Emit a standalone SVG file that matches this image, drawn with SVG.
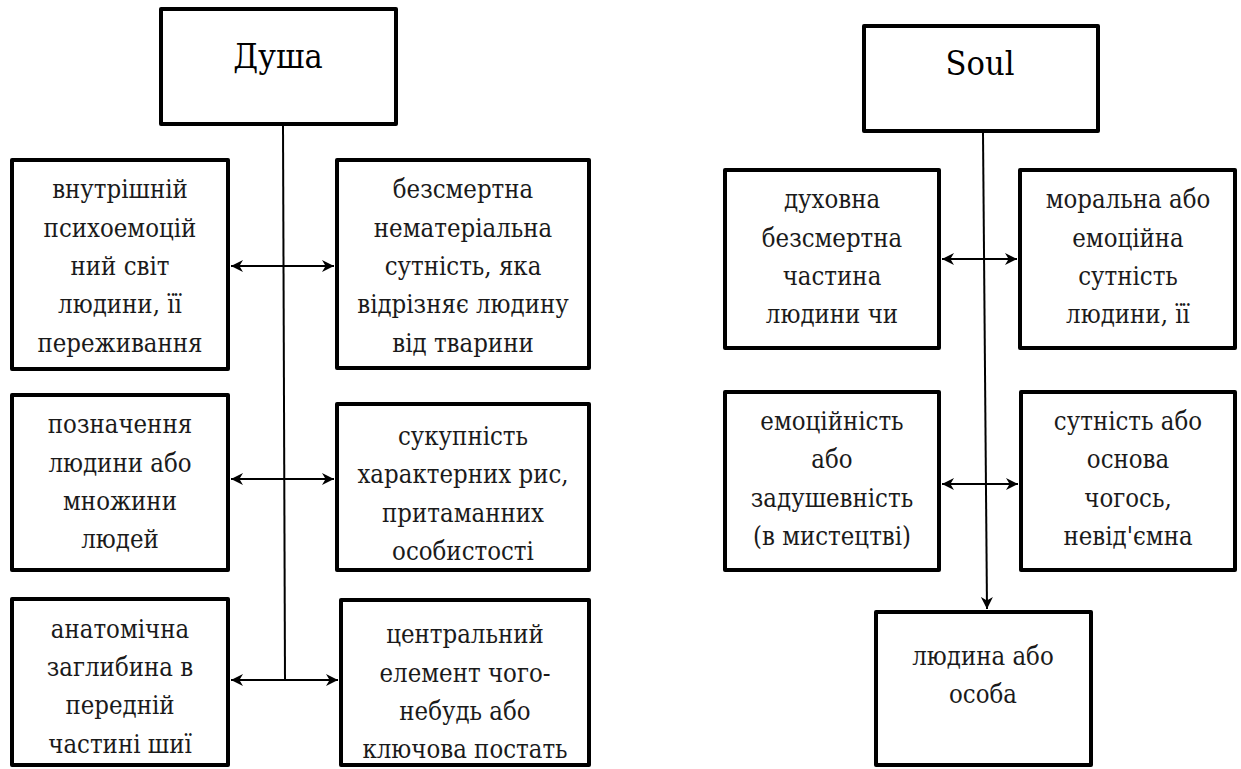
<svg xmlns="http://www.w3.org/2000/svg" width="1241" height="769" viewBox="0 0 1241 769">
<defs>
<style>
.box{fill:#fff;stroke:#000;stroke-width:4;stroke-linejoin:round}
.t{font-family:'DejaVu Serif Condensed','DejaVu Serif',serif;font-stretch:condensed;font-size:25.5px;fill:#1a1a1a;text-anchor:middle}
.h{font-family:'DejaVu Serif Condensed','DejaVu Serif',serif;font-stretch:condensed;font-size:34px;fill:#000;text-anchor:middle}
.c{fill:none;stroke:#000;stroke-width:2}
</style>
<marker id="ah" viewBox="0 0 10 10" markerUnits="userSpaceOnUse" markerWidth="13" markerHeight="12" refX="10" refY="5" orient="auto-start-reverse">
<path d="M0,0 L10,5 L0,10 L3,5 z" fill="#000"/>
</marker>
</defs>
<rect width="1241" height="769" fill="#fff"/>

<g id="connectors">
<line class="c" x1="283" y1="126" x2="285" y2="680"/>
<line class="c" x1="231" y1="266" x2="334" y2="266" marker-start="url(#ah)" marker-end="url(#ah)"/>
<line class="c" x1="231" y1="479" x2="334" y2="479" marker-start="url(#ah)" marker-end="url(#ah)"/>
<line class="c" x1="231" y1="680" x2="338" y2="680" marker-start="url(#ah)" marker-end="url(#ah)"/>
<line class="c" x1="983" y1="133" x2="987" y2="609" marker-end="url(#ah)"/>
<line class="c" x1="942" y1="259" x2="1017" y2="259" marker-start="url(#ah)" marker-end="url(#ah)"/>
<line class="c" x1="942" y1="484" x2="1018" y2="484" marker-start="url(#ah)" marker-end="url(#ah)"/>
</g>

<g id="n-dusha">
<rect class="box" x="161" y="9" width="235" height="115"/>
<text class="h" x="278" y="68">Душа</text>
</g>
<g id="n-l1">
<rect class="box" x="12" y="160" width="216" height="209"/>
<text class="t" x="120"><tspan x="120" y="198">внутрішній</tspan><tspan x="120" y="237">психоемоцій</tspan><tspan x="120" y="275">ний світ</tspan><tspan x="120" y="313">людини, її</tspan><tspan x="120" y="352">переживання</tspan></text>
</g>
<g id="n-r1">
<rect class="box" x="337" y="160" width="252" height="208"/>
<text class="t" x="463"><tspan x="463" y="198">безсмертна</tspan><tspan x="463" y="237">нематеріальна</tspan><tspan x="463" y="275">сутність, яка</tspan><tspan x="463" y="313">відрізняє людину</tspan><tspan x="463" y="352">від тварини</tspan></text>
</g>
<g id="n-l2">
<rect class="box" x="12" y="395" width="216" height="175"/>
<text class="t" x="120"><tspan x="120" y="433">позначення</tspan><tspan x="120" y="472">людини або</tspan><tspan x="120" y="510">множини</tspan><tspan x="120" y="548">людей</tspan></text>
</g>
<g id="n-r2">
<rect class="box" x="337" y="404" width="252" height="166"/>
<text class="t" x="463"><tspan x="463" y="445">сукупність</tspan><tspan x="463" y="483">характерних рис,</tspan><tspan x="463" y="522">притаманних</tspan><tspan x="463" y="560">особистості</tspan></text>
</g>
<g id="n-l3">
<rect class="box" x="12" y="599" width="216" height="166"/>
<text class="t" x="120"><tspan x="120" y="638">анатомічна</tspan><tspan x="120" y="676">заглибина в</tspan><tspan x="120" y="714">передній</tspan><tspan x="120" y="753">частині шиї</tspan></text>
</g>
<g id="n-r3">
<rect class="box" x="341" y="600" width="248" height="165"/>
<text class="t" x="465"><tspan x="465" y="643">центральний</tspan><tspan x="465" y="682">елемент чого-</tspan><tspan x="465" y="720">небудь або</tspan><tspan x="465" y="758">ключова постать</tspan></text>
</g>

<g id="n-soul">
<rect class="box" x="864" y="26" width="234" height="105"/>
<text class="h" x="980" y="75">Soul</text>
</g>
<g id="n-rl1">
<rect class="box" x="725" y="170" width="214" height="178"/>
<text class="t" x="832"><tspan x="832" y="208">духовна</tspan><tspan x="832" y="247">безсмертна</tspan><tspan x="832" y="285">частина</tspan><tspan x="832" y="323">людини чи</tspan></text>
</g>
<g id="n-rr1">
<rect class="box" x="1020" y="170" width="215" height="178"/>
<text class="t" x="1128"><tspan x="1128" y="208">моральна або</tspan><tspan x="1128" y="247">емоційна</tspan><tspan x="1128" y="285">сутність</tspan><tspan x="1128" y="323">людини, її</tspan></text>
</g>
<g id="n-rl2">
<rect class="box" x="725" y="392" width="214" height="178"/>
<text class="t" x="832"><tspan x="832" y="430">емоційність</tspan><tspan x="832" y="468">або</tspan><tspan x="832" y="507">задушевність</tspan><tspan x="832" y="545">(в мистецтві)</tspan></text>
</g>
<g id="n-rr2">
<rect class="box" x="1021" y="392" width="214" height="178"/>
<text class="t" x="1128"><tspan x="1128" y="430">сутність або</tspan><tspan x="1128" y="468">основа</tspan><tspan x="1128" y="507">чогось,</tspan><tspan x="1128" y="545">невід'ємна</tspan></text>
</g>
<g id="n-bottom">
<rect class="box" x="876" y="612" width="215" height="153"/>
<text class="t" x="983"><tspan x="983" y="665">людина або</tspan><tspan x="983" y="703">особа</tspan></text>
</g>
</svg>
